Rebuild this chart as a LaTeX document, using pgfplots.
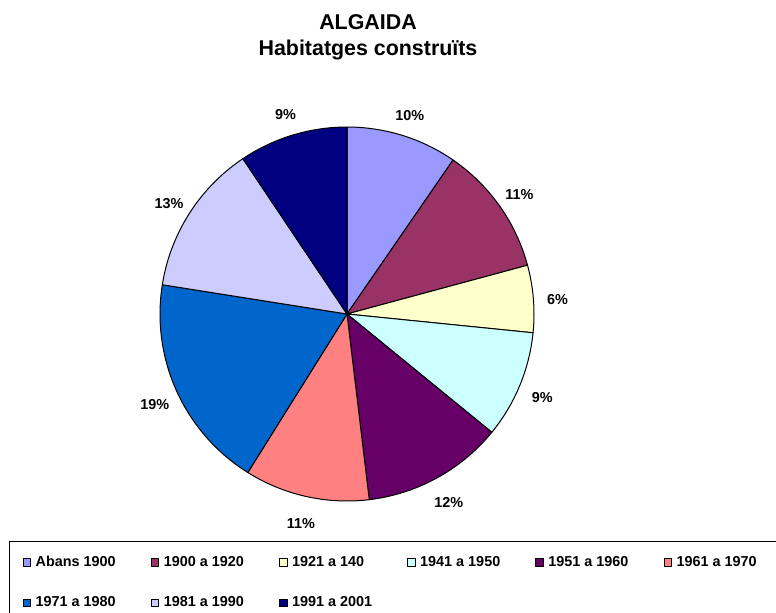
\documentclass[border=0pt]{standalone}
\usepackage{fontspec}
\setmainfont{Liberation Sans}
\usepackage{pgfplots}
\pgfplotsset{compat=1.18}

\definecolor{c1}{HTML}{9999FF}
\definecolor{c2}{HTML}{993366}
\definecolor{c3}{HTML}{FFFFCC}
\definecolor{c4}{HTML}{CCFFFF}
\definecolor{c5}{HTML}{660066}
\definecolor{c6}{HTML}{FF8080}
\definecolor{c7}{HTML}{0066CC}
\definecolor{c8}{HTML}{CCCCFF}
\definecolor{c9}{HTML}{000080}

\tikzset{pct/.style={font=\bfseries\fontsize{7.2}{8}\selectfont, yshift=-1.5pt}}

% one slice: value (%), colour, legend text; slices run clockwise from the top
\newcommand\curA{90}
\newcommand\slice[3]{%
  \pgfmathsetmacro\endA{\curA-3.6*#1}%
  \pgfmathsetmacro\midA{(\curA+\endA)/2}%
  \pgfmathtruncatemacro\pct{round(#1)}%
  \edef\temp{%
    \noexpand\addplot[fill=#2, draw=black, line width=0.5pt, line join=round,
      domain=\endA:\curA, samples=60] ({cos(x)},{sin(x)}) -- (0,0) -- cycle;
    \noexpand\addlegendentry{\noexpand\makebox[55.3pt][l]{#3}}
    \noexpand\node[pct] at ({1.13*cos(\midA)},{1.13*sin(\midA)}) {\pct\noexpand\%};
  }%
  \temp
  \xdef\curA{\endA}%
}

\begin{document}
\begin{tikzpicture}
\useasboundingbox (0,0) rectangle (388pt,306pt);
\node[font=\bfseries\fontsize{10.7}{12}\selectfont] at (184pt,295pt) {ALGAIDA};
\node[font=\bfseries\fontsize{10.7}{12}\selectfont] at (184pt,281pt) {Habitatges construïts};
\begin{axis}[
    at={(173.5pt,149pt)}, anchor=origin,
    scale only axis, width=187pt, height=187pt,
    xmin=-1, xmax=1, ymin=-1, ymax=1,
    hide axis, clip=false,
    legend columns=6,
    legend style={
        at={(-0.4029,-0.1061)}, anchor=north west,
        draw=black, line width=0.5pt,
        inner xsep=6.4pt, inner ysep=5pt,
        column sep=0pt, row sep=9pt,
        font=\bfseries\fontsize{7.2}{8}\selectfont,
        nodes={inner sep=2.3pt},
    },
    legend image code/.code={\draw[#1, draw=black, line width=0.4pt] (0pt,-1.9pt) rectangle (3.8pt,1.9pt);},
]
\slice{9.6}{c1}{Abans 1900}
\slice{11.2}{c2}{1900 a 1920}
\slice{5.8}{c3}{1921 a 140}
\slice{9.3}{c4}{1941 a 1950}
\slice{12.2}{c5}{1951 a 1960}
\slice{10.8}{c6}{1961 a 1970}
\slice{18.6}{c7}{1971 a 1980}
\slice{13.1}{c8}{1981 a 1990}
\slice{9.4}{c9}{1991 a 2001}
\end{axis}
\end{tikzpicture}
\end{document}
